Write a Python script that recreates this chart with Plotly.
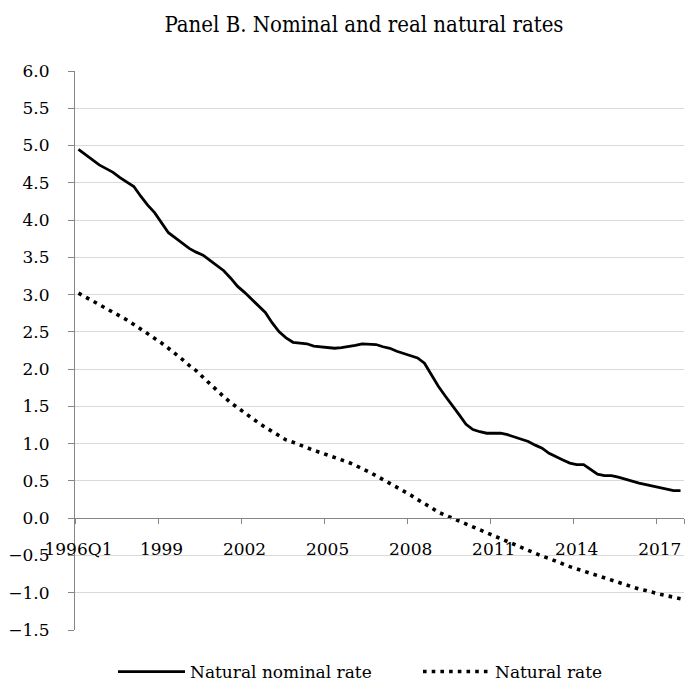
import plotly.graph_objects as go

# Quarterly categories 1996Q1 .. 2017Q4
years = list(range(1996, 2018))
quarters = [f"{y}Q{q}" for y in years for q in range(1, 5)]

tick_labels = ["1996Q1", "1999", "2002", "2005", "2008", "2011", "2014", "2017"]
tick_quarters = ["1996Q1", "1999Q1", "2002Q1", "2005Q1", "2008Q1", "2011Q1", "2014Q1", "2017Q1"]

natural_nominal_rate = [
    4.95, 4.88, 4.80, 4.74, 4.69, 4.64, 4.57, 4.51, 4.45, 4.32,
    4.20, 4.10, 3.96, 3.83, 3.76, 3.69, 3.62, 3.57, 3.53, 3.46,
    3.39, 3.32, 3.22, 3.11, 3.03, 2.94, 2.85, 2.76, 2.62, 2.50,
    2.42, 2.36, 2.35, 2.34, 2.31, 2.30, 2.28, 2.28, 2.29, 2.30,
    2.32, 2.34, 2.34, 2.33, 2.30, 2.28, 2.24, 2.21, 2.19, 2.15,
    2.08, 1.93, 1.77, 1.64, 1.52, 1.39, 1.26, 1.19, 1.16, 1.14,
    1.14, 1.14, 1.12, 1.09, 1.07, 1.03, 0.98, 0.94, 0.87, 0.82,
    0.78, 0.74, 0.72, 0.72, 0.65, 0.59, 0.57, 0.57, 0.55, 0.52,
    0.50, 0.47, 0.45, 0.43, 0.41, 0.39, 0.37, 0.37,
]

natural_rate = [
    3.02, 2.97, 2.92, 2.87, 2.82, 2.77, 2.72, 2.66, 2.60, 2.54,
    2.47, 2.41, 2.35, 2.28, 2.21, 2.13, 2.05, 1.98, 1.89, 1.80,
    1.72, 1.63, 1.55, 1.48, 1.41, 1.34, 1.28, 1.22, 1.16, 1.11,
    1.05, 1.02, 0.98, 0.95, 0.91, 0.88, 0.85, 0.82, 0.79, 0.75,
    0.71, 0.67, 0.62, 0.57, 0.52, 0.47, 0.42, 0.37, 0.31, 0.25,
    0.20, 0.14, 0.08, 0.04, 0.00, -0.04, -0.08, -0.11, -0.15, -0.19,
    -0.23, -0.27, -0.31, -0.35, -0.40, -0.44, -0.47, -0.51, -0.54, -0.58,
    -0.61, -0.65, -0.68, -0.71, -0.74, -0.78, -0.81, -0.84, -0.86, -0.89,
    -0.92, -0.95, -0.97, -1.00, -1.02, -1.04, -1.06, -1.08,
]

x_idx = list(range(len(quarters)))
tick_idx = [quarters.index(q) for q in tick_quarters]
boundary_idx = [i - 0.5 for i in tick_idx] + [len(quarters) - 0.5]

FONT = "DejaVu Serif"
TITLE_FONT = "DejaVu Serif Condensed, DejaVu Serif"
Y_MIN, Y_MAX = -1.5, 6.0

fig = go.Figure()
fig.add_trace(go.Scatter(
    x=x_idx, y=natural_nominal_rate, mode="lines", name="Natural nominal rate",
    line=dict(color="black", width=2.8), legend="legend",
))
fig.add_trace(go.Scatter(
    x=x_idx, y=natural_rate, mode="lines", name="Natural rate",
    line=dict(color="black", width=3.6, dash="3.6px,5.1px"), legend="legend2",
))

legend_common = dict(orientation="h", xref="container", xanchor="left",
                     yref="container", y=1 - 664 / 689, yanchor="middle",
                     itemwidth=67,
                     font=dict(family=FONT, size=17, color="black"),
                     bgcolor="rgba(0,0,0,0)")

fig.update_layout(
    width=694, height=689,
    margin=dict(l=67, r=18, t=63, b=67, autoexpand=False),
    paper_bgcolor="white", plot_bgcolor="white",
    font=dict(family=FONT, size=17, color="black"),
    title=dict(text="Panel B. Nominal and real natural rates",
               x=356 / 694, xref="container", xanchor="center",
               y=1 - 16 / 689, yref="container", yanchor="middle",
               font=dict(family=TITLE_FONT, size=22, color="black")),
    showlegend=True,
    legend=dict(x=105 / 694, **legend_common),
    legend2=dict(x=410 / 694, **legend_common),
    xaxis=dict(
        range=[-0.5, len(quarters) - 0.5], automargin=False,
        anchor="free", position=(0 - Y_MIN) / (Y_MAX - Y_MIN),
        showline=True, linecolor="#868686", linewidth=1,
        showgrid=False, zeroline=False,
        tickmode="array", tickvals=tick_idx, ticktext=tick_labels,
        ticks="outside", ticklen=5, tickcolor="rgba(0,0,0,0)",
        ticklabelstandoff=10,
        minor=dict(tickmode="array", tickvals=boundary_idx, ticks="outside",
                   ticklen=5, tickcolor="#868686", tickwidth=1, showgrid=False),
        tickfont=dict(family=FONT, size=17, color="black"),
    ),
    yaxis=dict(
        range=[Y_MIN, Y_MAX], dtick=0.5, tick0=0, tickformat=".1f",
        automargin=False,
        showline=True, linecolor="#868686", linewidth=1,
        ticks="outside", ticklen=6, tickcolor="#868686",
        showgrid=True, gridcolor="#d9d9d9", gridwidth=1.3,
        zeroline=False, ticklabelstandoff=15,
        tickfont=dict(family=FONT, size=17, color="black"),
    ),
)

fig.write_html("out.html")
